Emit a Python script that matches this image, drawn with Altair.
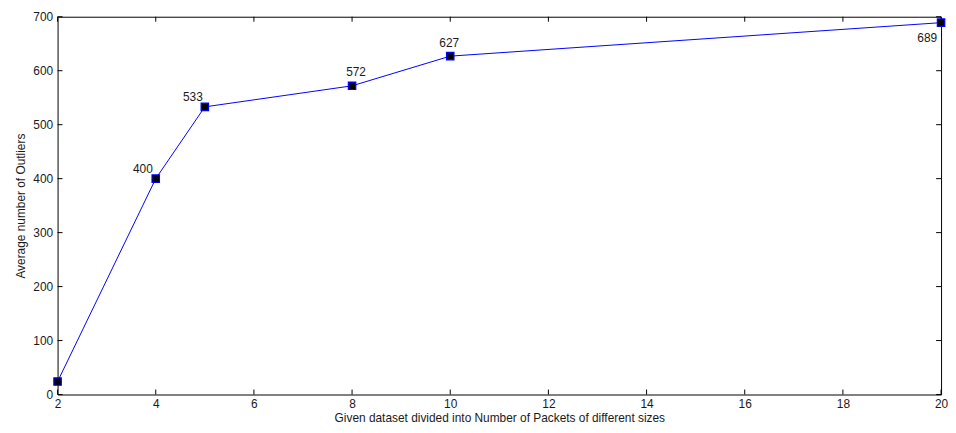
import altair as alt
import pandas as pd

# Data
packets = [2, 4, 5, 8, 10, 20]
outliers = [24, 400, 533, 572, 627, 689]
point_labels = ["", "400", "533", "572", "627", "689"]
x_ticks = [2, 4, 6, 8, 10, 12, 14, 16, 18, 20]
y_ticks = [0, 100, 200, 300, 400, 500, 600, 700]

x_title = "Given dataset divided into Number of Packets of different sizes"
y_title = "Average number of Outliers"

# style: label offsets (dx, dy) in pixels for each annotated point
label_offsets = {"400": (-13, -10), "533": (-12, -10), "572": (4, -14),
                 "627": (-1, -13), "689": (-14, 15)}

df = pd.DataFrame({"packets": packets, "outliers": outliers, "label": point_labels})
xt = pd.DataFrame({"packets": x_ticks})
yt = pd.DataFrame({"outliers": y_ticks})

W, H = 891, 381
FONT = "Liberation Sans"
FS = 12
TICK = 5
TXT = "#1a1a1a"

xscale = alt.Scale(domain=[2, 20], nice=False, zero=False)
yscale = alt.Scale(domain=[0, 700], nice=False, zero=False)

xaxis = alt.Axis(values=x_ticks, title=x_title, domain=False, ticks=False,
                 grid=False, labelPadding=4, titlePadding=3, format="d",
                 labelFlush=False, labelOverlap=False)
yaxis = alt.Axis(values=y_ticks, title=y_title, domain=False, ticks=False,
                 grid=False, labelPadding=5, titlePadding=5, format="d",
                 labelFlush=False, labelOverlap=False)

base = alt.Chart(df)

line = base.mark_line(color="#0000ff", strokeWidth=1).encode(
    x=alt.X("packets:Q", scale=xscale, axis=xaxis),
    y=alt.Y("outliers:Q", scale=yscale, axis=yaxis),
)

pts = base.mark_square(fill="black", stroke="#0000ff", strokeWidth=1.2, size=56,
                       opacity=1).encode(
    x=alt.X("packets:Q", scale=xscale, axis=xaxis),
    y=alt.Y("outliers:Q", scale=yscale, axis=yaxis),
)

texts = []
for lab, (dx, dy) in label_offsets.items():
    texts.append(
        base.transform_filter(alt.datum.label == lab)
        .mark_text(dx=dx, dy=dy, font=FONT, fontSize=FS, color=TXT)
        .encode(x=alt.X("packets:Q", scale=xscale, axis=xaxis),
                y=alt.Y("outliers:Q", scale=yscale, axis=yaxis),
                text="label:N")
    )

tick_style = dict(color="black", strokeWidth=1)
bottom_ticks = alt.Chart(xt).mark_rule(**tick_style).encode(
    x=alt.X("packets:Q", scale=xscale, axis=xaxis), y=alt.value(H), y2=alt.value(H - TICK))
top_ticks = alt.Chart(xt).mark_rule(**tick_style).encode(
    x=alt.X("packets:Q", scale=xscale, axis=xaxis), y=alt.value(0), y2=alt.value(TICK))
left_ticks = alt.Chart(yt).mark_rule(**tick_style).encode(
    y=alt.Y("outliers:Q", scale=yscale, axis=yaxis), x=alt.value(0), x2=alt.value(TICK))
right_ticks = alt.Chart(yt).mark_rule(**tick_style).encode(
    y=alt.Y("outliers:Q", scale=yscale, axis=yaxis), x=alt.value(W), x2=alt.value(W - TICK))

chart = alt.layer(
    line, bottom_ticks, top_ticks, left_ticks, right_ticks, pts, *texts
).properties(
    width=W, height=H,
    autosize=alt.AutoSizeParams(type="none"),
    padding={"left": 50, "top": 7, "right": 7, "bottom": 37},
    background="white",
).configure_view(
    stroke="black", strokeWidth=1
).configure_axis(
    labelFont=FONT, titleFont=FONT, labelFontSize=FS, titleFontSize=FS,
    labelColor=TXT, titleColor=TXT, titleFontWeight="normal",
)

chart.save("out.html", embed_options={"renderer": "svg", "actions": False})
